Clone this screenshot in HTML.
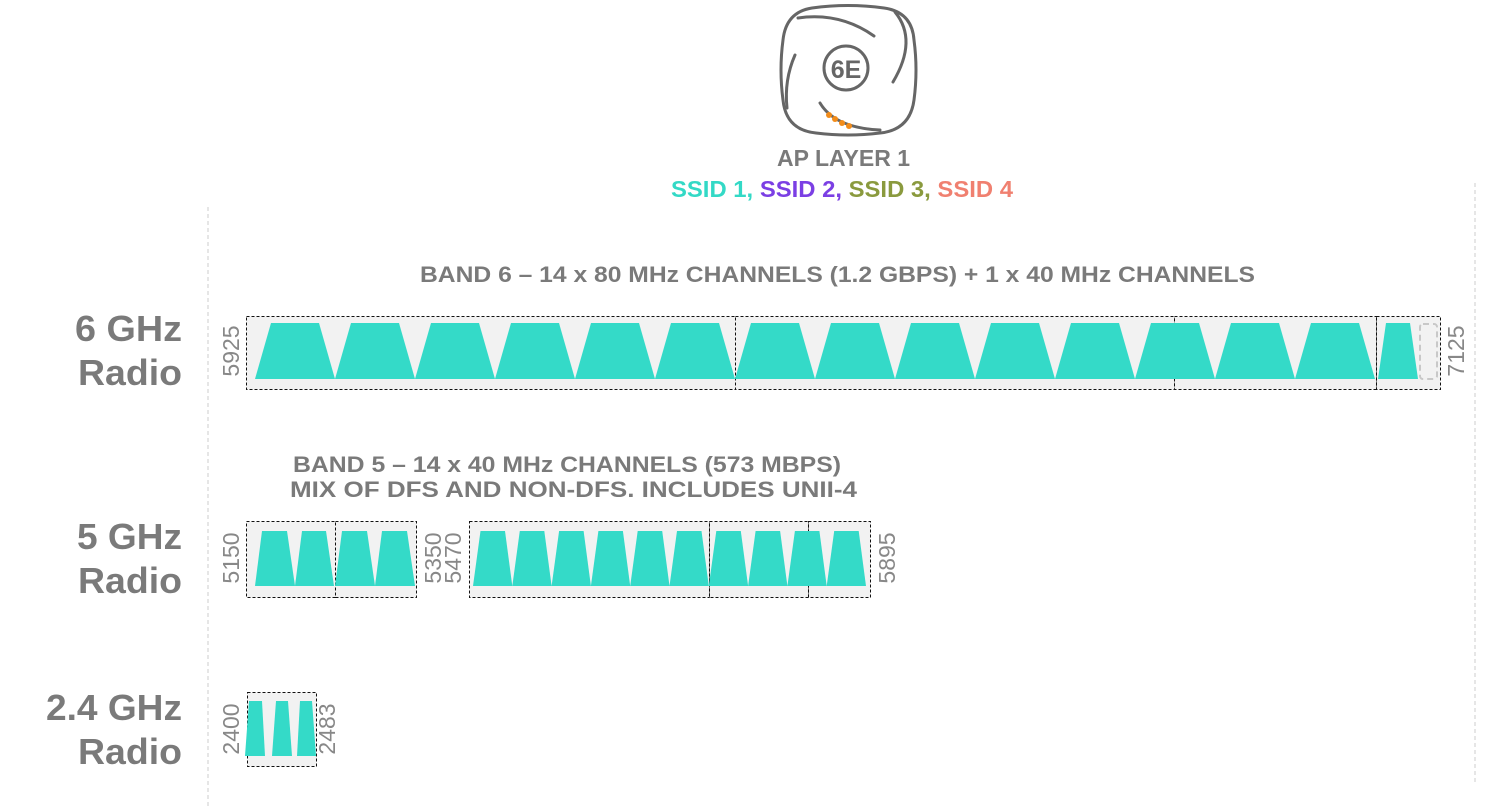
<!DOCTYPE html>
<html><head><meta charset="utf-8"><style>
html,body{margin:0;padding:0;background:#fff;}
svg{display:block;font-family:"Liberation Sans",sans-serif;}
</style></head><body>
<svg width="1485" height="807" viewBox="0 0 1485 807">
<line x1="208" y1="207" x2="208" y2="807" stroke="#ccc" stroke-width="1" stroke-dasharray="4,3"/>
<line x1="1475" y1="183" x2="1475" y2="782" stroke="#ccc" stroke-width="1" stroke-dasharray="4,3"/>

<!-- AP icon -->
<g fill="none" stroke="#666" stroke-width="3" stroke-linecap="round">
<path d="M812,8 Q848,3 884,8 Q912,12 914,40 Q918,70 914,100 Q910,130 880,133 Q848,137 816,133 Q786,130 783,100 Q779,70 783,40 Q786,12 812,8 Z"/>
<path d="M798,18 Q840,12 874,36"/>
<path d="M895,12 Q918,40 893,82"/>
<path d="M795,55 Q784,80 787,108"/>
<path d="M820,103 Q835,128 880,130"/>
<circle cx="846" cy="68" r="22"/>
</g>
<text x="846" y="78" text-anchor="middle" font-size="25" font-weight="bold" fill="#666">6E</text>
<g fill="#f28c1a"><circle cx="829" cy="115" r="3"/><circle cx="835" cy="119" r="3"/><circle cx="842" cy="123" r="3"/><circle cx="849" cy="126" r="3"/></g>

<text x="777" y="166" textLength="133" lengthAdjust="spacingAndGlyphs" font-size="23" font-weight="bold" fill="#7a7a7a">AP LAYER 1</text>
<text x="671" y="197" textLength="342" lengthAdjust="spacingAndGlyphs" font-size="23" font-weight="bold"><tspan fill="#33d9c6">SSID 1, </tspan><tspan fill="#7b3fe4">SSID 2, </tspan><tspan fill="#8a9a3e">SSID 3, </tspan><tspan fill="#f08070">SSID 4</tspan></text>

<text x="420" y="282" textLength="835" lengthAdjust="spacingAndGlyphs" font-size="22" font-weight="bold" fill="#7a7a7a">BAND 6 – 14 x 80 MHz CHANNELS (1.2 GBPS) + 1 x 40 MHz CHANNELS</text>
<text x="293" y="472" textLength="548" lengthAdjust="spacingAndGlyphs" font-size="22" font-weight="bold" fill="#7a7a7a">BAND 5 – 14 x 40 MHz CHANNELS (573 MBPS)</text>
<text x="290" y="497" textLength="567" lengthAdjust="spacingAndGlyphs" font-size="22" font-weight="bold" fill="#7a7a7a">MIX OF DFS AND NON-DFS.  INCLUDES UNII-4</text>

<g font-size="36" font-weight="bold" fill="#7a7a7a">
<text x="75" y="341" textLength="107" lengthAdjust="spacingAndGlyphs">6 GHz</text><text x="78" y="385" textLength="104" lengthAdjust="spacingAndGlyphs">Radio</text>
<text x="77" y="549" textLength="105" lengthAdjust="spacingAndGlyphs">5 GHz</text><text x="78" y="593" textLength="104" lengthAdjust="spacingAndGlyphs">Radio</text>
<text x="46" y="720" textLength="136" lengthAdjust="spacingAndGlyphs">2.4 GHz</text><text x="78" y="764" textLength="104" lengthAdjust="spacingAndGlyphs">Radio</text>
</g>

<!-- boxes -->
<g fill="#f2f2f2" stroke="#111" stroke-width="1" stroke-dasharray="3,2">
<rect x="246.5" y="316.5" width="489" height="73"/>
<rect x="735.5" y="316.5" width="439" height="73"/>
<rect x="1174.5" y="316.5" width="202" height="73"/>
<rect x="1376.5" y="316.5" width="64" height="73"/>
<rect x="246.5" y="521.5" width="89" height="76"/>
<rect x="335.5" y="521.5" width="81" height="76"/>
<rect x="469.5" y="521.5" width="240" height="76"/>
<rect x="709.5" y="521.5" width="99" height="76"/>
<rect x="808.5" y="521.5" width="62" height="76"/>
<rect x="247.5" y="692.5" width="69" height="74"/>
</g>
<rect x="1420" y="324" width="17" height="55" rx="3" fill="none" stroke="#c8c8c8" stroke-width="2" stroke-dasharray="6,4"/>

<g fill="#34dac8">
<polygon points="255,379 271,323 319,323 335,379"/>
<polygon points="335,379 351,323 399,323 415,379"/>
<polygon points="415,379 431,323 479,323 495,379"/>
<polygon points="495,379 511,323 559,323 575,379"/>
<polygon points="575,379 591,323 639,323 655,379"/>
<polygon points="655,379 671,323 719,323 735,379"/>
<polygon points="735,379 751,323 799,323 815,379"/>
<polygon points="815,379 831,323 879,323 895,379"/>
<polygon points="895,379 911,323 959,323 975,379"/>
<polygon points="975,379 991,323 1039,323 1055,379"/>
<polygon points="1055,379 1071,323 1119,323 1135,379"/>
<polygon points="1135,379 1151,323 1199,323 1215,379"/>
<polygon points="1215,379 1231,323 1279,323 1295,379"/>
<polygon points="1295,379 1311,323 1359,323 1375,379"/>
<polygon points="1378,379 1386,323 1410,323 1418,379"/>

<polygon points="255,586 262,531 287,531 295,586"/>
<polygon points="295,586 302,531 326,531 334,586"/>
<polygon points="335,586 342,531 367,531 375,586"/>
<polygon points="375,586 382,531 407,531 415,586"/>
<polygon points="473,586 480.5,531 505,531 512.3,586"/>
<polygon points="512.3,586 519.8,531 544.3,531 551.6,586"/>
<polygon points="551.6,586 559.1,531 583.6,531 590.9,586"/>
<polygon points="590.9,586 598.4,531 622.9,531 630.2,586"/>
<polygon points="630.2,586 637.7,531 662.2,531 669.5,586"/>
<polygon points="669.5,586 677,531 701.5,531 708.8,586"/>
<polygon points="708.8,586 716.3,531 740.8,531 748.1,586"/>
<polygon points="748.1,586 755.6,531 780.1,531 787.4,586"/>
<polygon points="787.4,586 794.9,531 819.4,531 826.7,586"/>
<polygon points="826.7,586 834.2,531 858.7,531 866,586"/>

<polygon points="245,756 249,701 262,701 265,756"/>
<polygon points="272,756 276,701 288,701 292,756"/>
<polygon points="297,756 300,701 312,701 316,756"/>
</g>

<g font-size="23" fill="#888" text-anchor="middle">
<text transform="translate(239,351) rotate(-90)">5925</text>
<text transform="translate(1464,351) rotate(-90)">7125</text>
<text transform="translate(239,558) rotate(-90)">5150</text>
<text transform="translate(441,558) rotate(-90)">5350</text>
<text transform="translate(461,558) rotate(-90)">5470</text>
<text transform="translate(895,558) rotate(-90)">5895</text>
<text transform="translate(239,729) rotate(-90)">2400</text>
<text transform="translate(335,729) rotate(-90)">2483</text>
</g>
</svg>
</body></html>
